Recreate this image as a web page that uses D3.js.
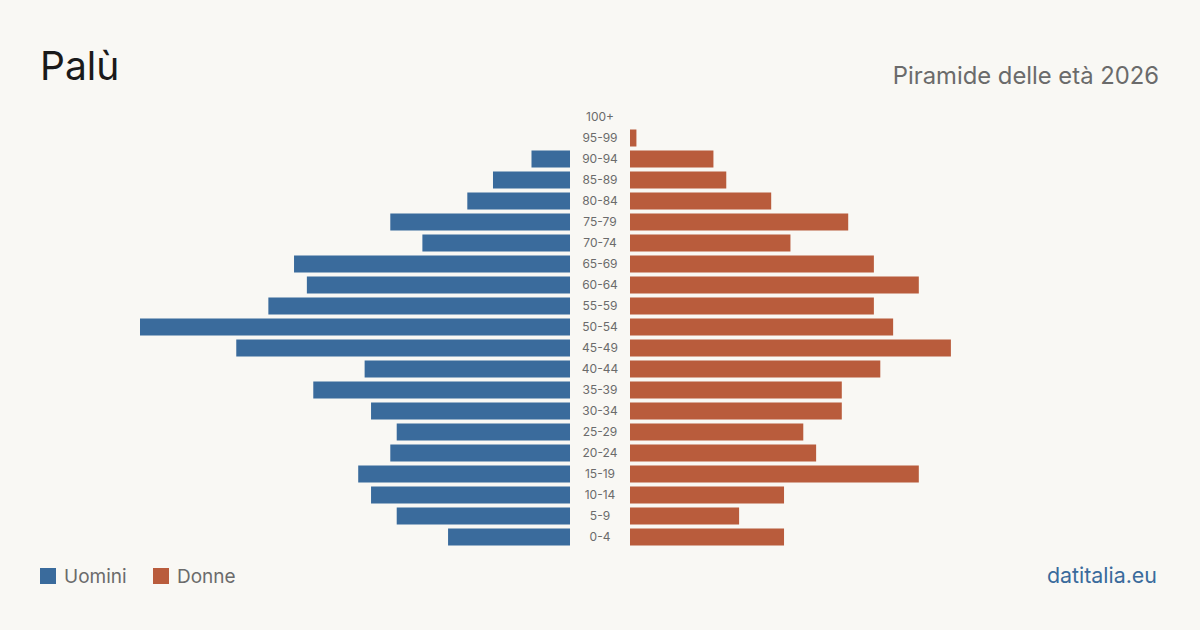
<!DOCTYPE html>
<html><head><meta charset="utf-8">
<script src="https://cdn.jsdelivr.net/npm/d3@7"></script>
<style>
html,body{margin:0;padding:0;background:#f9f8f4;}
svg{display:block;font-family:Inter, "Noto Sans", sans-serif;}
</style></head>
<body>
<svg id="c" width="1200" height="630"></svg>
<script>
const ageGroups = ["100+","95-99","90-94","85-89","80-84","75-79","70-74","65-69","60-64","55-59","50-54","45-49","40-44","35-39","30-34","25-29","20-24","15-19","10-14","5-9","0-4"];
const men   = [0,0,6,12,16,28,23,43,41,47,67,52,32,40,31,27,28,33,31,27,19];
const women = [0,1,13,15,22,34,25,38,45,38,41,50,39,33,33,27,29,45,24,17,24];
const title = "Palù";
const subtitle = "Piramide delle età 2026";
const legendLabels = ["Uomini","Donne"];
const source = "datitalia.eu";

const blue = "#3a6b9c", orange = "#b95c3c";
const svg = d3.select("#c");
svg.append("rect").attr("width",1200).attr("height",630).attr("fill","#f9f8f4");

const y = d3.scaleBand().domain(ageGroups).range([106.5, 547.5]).paddingInner(0.19).paddingOuter(0.095);
const maxV = d3.max([...men, ...women]);
const xL = d3.scaleLinear().domain([0, maxV]).range([570, 140]);
const xR = d3.scaleLinear().domain([0, maxV]).range([630, 1060]);

svg.append("g").selectAll("rect").data(ageGroups).join("rect")
  .attr("x", (d,i)=>xL(men[i])).attr("width",(d,i)=>xL(0)-xL(men[i]))
  .attr("y", d=>y(d)).attr("height", y.bandwidth()).attr("fill", blue);
svg.append("g").selectAll("rect").data(ageGroups).join("rect")
  .attr("x", xR(0)).attr("width",(d,i)=>xR(women[i])-xR(0))
  .attr("y", d=>y(d)).attr("height", y.bandwidth()).attr("fill", orange);

svg.append("g").selectAll("text").data(ageGroups).join("text")
  .attr("x",600).attr("y", d=>y(d)+y.bandwidth()/2).attr("dy","0.35em")
  .attr("text-anchor","middle").attr("font-size",12).attr("fill","#6b6b6b").text(d=>d);

svg.append("text").attr("x",40).attr("y",80).attr("font-size",39).attr("fill","#1a1a1a").text(title);
svg.append("text").attr("x",1159).attr("y",84).attr("text-anchor","end").attr("font-size",23.8).attr("fill","#6b6b6b").text(subtitle);

const leg = [{x:40, c:blue},{x:153, c:orange}];
leg.forEach((l,i)=>{
  svg.append("rect").attr("x",l.x).attr("y",568).attr("width",16).attr("height",16).attr("fill",l.c);
  svg.append("text").attr("x",l.x+24).attr("y",583).attr("font-size",19).attr("fill","#6b6b6b").text(legendLabels[i]);
});
svg.append("text").attr("x",1157).attr("y",583).attr("text-anchor","end").attr("font-size",21.4).attr("fill",blue).text(source);
</script>
</body></html>
